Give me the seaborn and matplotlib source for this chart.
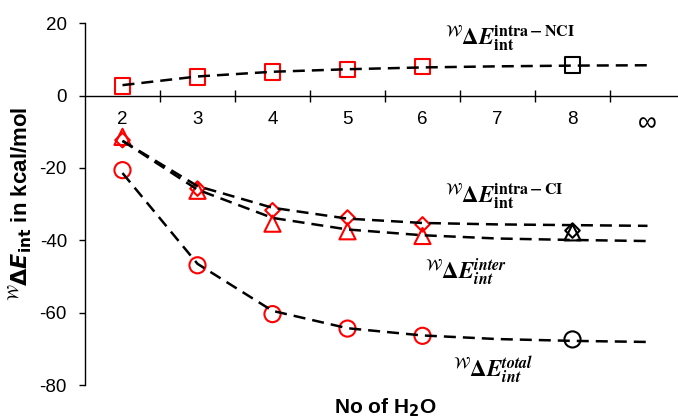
import matplotlib
matplotlib.use("Agg")
import matplotlib.pyplot as plt
import seaborn as sns

# Cluster sizes (number of water molecules); last category is the extrapolated limit
n_labels = ["2", "3", "4", "5", "6", "7", "8", "∞"]
n_calc = ["2", "3", "4", "5", "6"]      # computed clusters (red markers)
n_check = ["8"]                          # test cluster (black markers)

# Intra-molecular non-covalent interaction energy
nci_calc = [2.6, 5.2, 6.6, 7.2, 8.0]
nci_check = [8.4]
nci_fit = [2.9, 5.3, 6.6, 7.3, 7.8, 8.1, 8.3, 8.4]

# Intra-molecular covalent interaction energy
ci_calc = [-12.3, -25.7, -31.7, -33.7, -35.6]
ci_check = [-37.3]
ci_fit = [-12.5, -25.0, -31.0, -34.0, -35.2, -35.6, -35.8, -36.0]

# Inter-molecular interaction energy
inter_calc = [-11.4, -26.3, -35.4, -37.5, -38.8]
inter_check = [-37.8]
inter_fit = [-12.5, -26.0, -33.8, -37.0, -38.6, -39.5, -39.9, -40.2]

# Total interaction energy
total_calc = [-20.6, -46.9, -60.4, -64.4, -66.4]
total_check = [-67.4]
total_fit = [-21.4, -46.5, -59.5, -64.3, -66.3, -67.3, -67.8, -68.1]

y_ticks = [-80, -60, -40, -20, 0, 20]

sns.set_style("ticks")
plt.rcParams["font.family"] = ["Liberation Sans", "DejaVu Sans"]
plt.rcParams["text.color"] = "black"
plt.rcParams["xtick.color"] = "black"
plt.rcParams["ytick.color"] = "black"
plt.rcParams["axes.labelcolor"] = "black"

pos = {lab: i for i, lab in enumerate(n_labels)}
x_all = [pos[k] for k in n_labels]
x_calc = [pos[k] for k in n_calc]
x_check = [pos[k] for k in n_check]

fig = plt.figure(figsize=(6.78, 4.19), dpi=100)
W, H = 678, 419
ax = fig.add_axes([85 / W, (H - 385) / H, 600 / W, (385 - 23.3) / H])

dash = (0, (4.8, 2.8))
for fit in (nci_fit, ci_fit, inter_fit, total_fit):
    sns.lineplot(x=x_all, y=fit, ax=ax, color="black", linewidth=1.8,
                 linestyle=dash, zorder=4)

series = [
    (nci_calc, nci_check, "s", 125),
    (ci_calc, ci_check, "D", 55),
    (inter_calc, inter_check, "^", 135),
    (total_calc, total_check, "o", 135),
]
for calc, check, mk, size in series:
    sns.scatterplot(x=x_calc, y=calc, ax=ax, marker=mk, s=size,
                    facecolor="none", edgecolor="#ff0000", linewidth=1.5,
                    zorder=3)
    sns.scatterplot(x=x_check, y=check, ax=ax, marker=mk, s=size,
                    facecolor="none", edgecolor="black", linewidth=1.5,
                    zorder=3)

ax.set_xlim(-0.5, len(n_labels) - 0.5)
ax.set_ylim(-80, 20)
ax.set_yticks(y_ticks, labels=[str(v) for v in y_ticks])
ax.set_xticks(x_all, labels=n_labels)
ax.set_xticks([i + 0.5 for i in range(len(n_labels))], minor=True)
ax.tick_params(axis="both", which="major", labelsize=13.5, labelcolor="black")
ax.tick_params(axis="x", which="major", length=0, pad=11)
ax.tick_params(axis="x", which="minor", direction="inout", length=9,
               width=1, color="black")
ax.tick_params(axis="y", direction="out", length=4, width=1, color="black",
               pad=9)

for side in ("top", "right"):
    ax.spines[side].set_visible(False)
ax.spines["bottom"].set_position(("data", 0))
for side in ("left", "bottom"):
    ax.spines[side].set_color("black")
    ax.spines[side].set_linewidth(1.0)
ax.grid(False)
ax.set_facecolor("white")

ax.set_ylabel(r"${}^{\mathcal{W}}\mathbf{\Delta}\mathbfit{E}_{\mathbf{int}}$ in kcal/mol",
              fontsize=16, fontweight="bold", math_fontfamily="dejavusans",
              labelpad=4, color="black")
fig.text(385 / W, 1 - 408 / H, r"No of H$_{\mathbf{2}}$O", fontsize=15,
         fontweight="bold", ha="center", va="center",
         math_fontfamily="dejavusans", color="black")

labels = [
    (4.3, 14.0, r"${}^{\mathcal{W}}\mathbf{\Delta}\mathbfit{E}^{\mathbf{intra-NCI}}_{\mathbf{int}}$"),
    (4.3, -29.7, r"${}^{\mathcal{W}}\mathbf{\Delta}\mathbfit{E}^{\mathbf{intra-CI}}_{\mathbf{int}}$"),
    (4.03, -50.5, r"${}^{\mathcal{W}}\mathbf{\Delta}\mathbfit{E}^{\mathbfit{inter}}_{\mathbfit{int}}$"),
    (4.41, -77.9, r"${}^{\mathcal{W}}\mathbf{\Delta}\mathbfit{E}^{\mathbfit{total}}_{\mathbfit{int}}$"),
]
for x, y, s in labels:
    ax.text(x, y, s, fontsize=16.5, ha="left", va="baseline",
            math_fontfamily="stix", color="black")

# the infinity sign is drawn a little larger than the digits
fig.canvas.draw()
ax.xaxis.get_major_ticks()[-1].label1.set_fontsize(19)

fig.savefig("out.png", dpi=100, facecolor="white")
